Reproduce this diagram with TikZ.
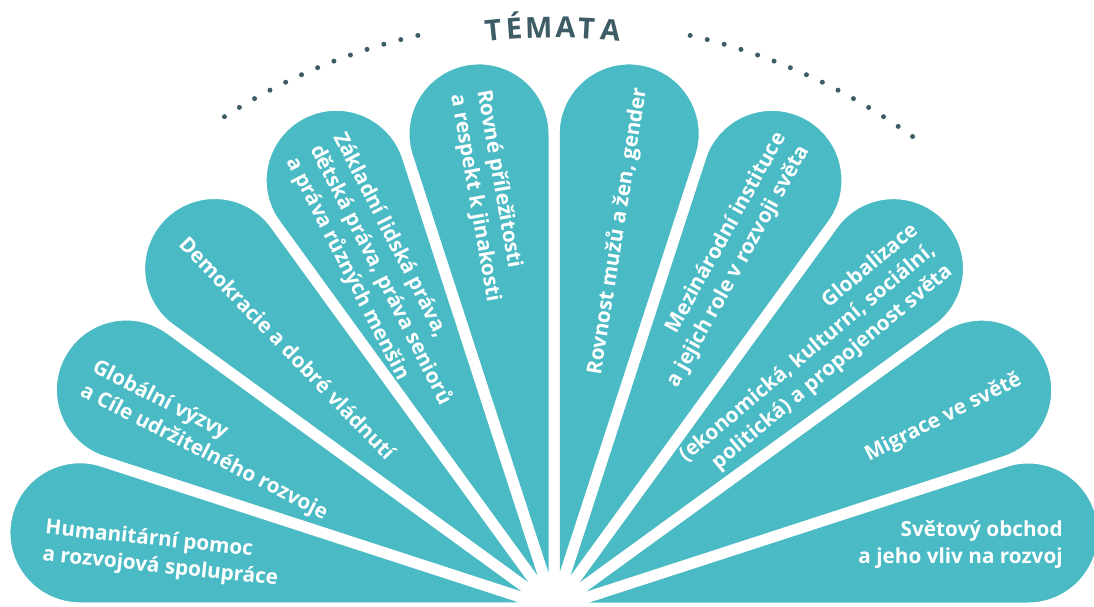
\documentclass[tikz,border=0pt]{standalone}
\usepackage{fontspec}
\setmainfont{Open Sans}
\usetikzlibrary{positioning}
\definecolor{petalteal}{HTML}{4ABAC4}
\definecolor{slate}{HTML}{3D5C66}

\tikzset{
  petal/.style={fill=petalteal, draw=white, line width=0.22cm, line join=round},
  label/.style={text=white, font=\bfseries\fontsize{11.8}{15.2}\selectfont, inner sep=0pt},
  lefttext/.style={label, anchor=west, align=left},
  righttext/.style={label, anchor=east, align=right},
  letter/.style={text=slate, font=\bfseries\fontsize{16.5}{18}\selectfont, anchor=base, inner sep=0pt}
}

\begin{document}
\begin{tikzpicture}
\useasboundingbox (-11.08,0.04) rectangle (10.8,12.16);

% petals of the fan
\foreach \a in {9,27,...,171}
    \path[petal] (0,0) -- (\a-9:{9.6*cos(9)}) arc[start angle=\a-99, end angle=\a+99, radius=1.5] -- cycle;

% texts, left half
\node[lefttext, rotate=-6] (humanit) at (172.6:10.29) {Humanitární pomoc\\a rozvojová spolupráce};
\node[lefttext, rotate=-27] (vyzvy) at (153.8:10.4) {Globální výzvy\\a Cíle udržitelného rozvoje};
\node[lefttext, rotate=-46] (demokr) at (135.2:10.45) {Demokracie a dobré vládnutí};
\node[lefttext, rotate=-63] (prava) at (117.4:10.4) {Základní lidská práva,\\dětská práva, práva seniorů\\a práva různých menšin};
\node[lefttext, rotate=-80] (rovne) at (99.3:10.45) {Rovné příležitosti\\a respekt k jinakosti};

% texts, right half
\node[righttext, rotate=81] (gender) at (80.6:10.55) {Rovnost mužů a žen, gender};
\node[righttext, rotate=61] (instit) at (62.9:10.5) {Mezinárodní instituce\\a jejich role v rozvoji světa};
\node[righttext, rotate=40] (global) at (43.5:10.45) {Globalizace\\(ekonomická, kulturní, sociální,\\politická) a propojenost světa};
\node[righttext, rotate=27] (migrace) at (26.2:10.4) {Migrace ve světě};
\node[righttext] (obchod) at (7.1:10.26) {Světový obchod\\a jeho vliv na rozvoj};

% title on an arc with dots
\begin{scope}[shift={(0,-0.44)}]
    \foreach \c/\b [count=\i] in {T/95.8, É/93.8, M/91.45, A/88.9, T/86.9, A/84.6}
        \node[letter, rotate=\b-90] (tl\i) at (\b:11.84) {\c};
    \foreach \k in {0,...,12}
        \fill[slate] ({102.9+1.65*\k}:12.2) circle (0.05);
    \foreach \k in {0,...,14}
        \fill[slate] ({54+1.65*\k}:12.2) circle (0.05);
\end{scope}
\end{tikzpicture}
\end{document}
